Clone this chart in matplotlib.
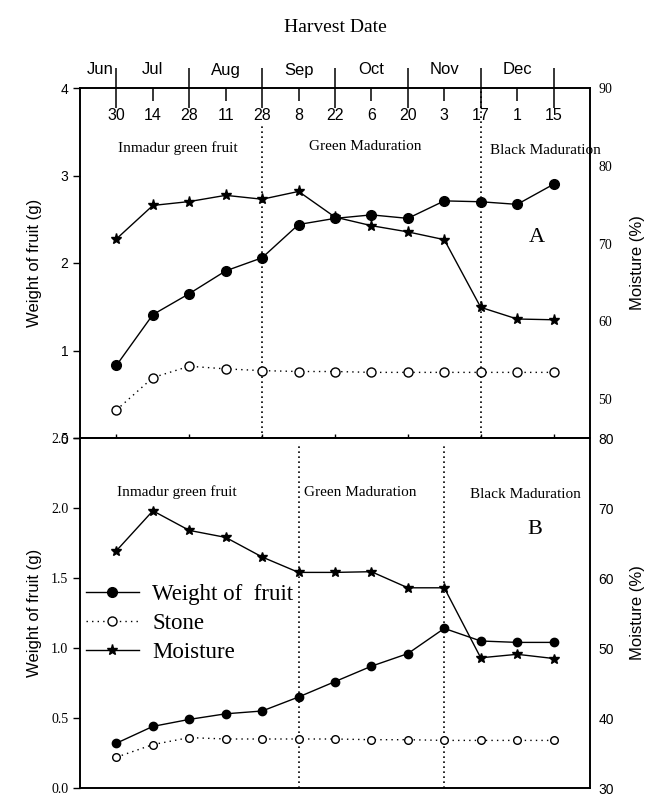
import matplotlib
matplotlib.use('Agg')
from matplotlib import pyplot as pl
from matplotlib import transforms as mtrans
from matplotlib.lines import Line2D

SERIF = 'Liberation Serif'
SANS = 'Liberation Sans'

# harvest dates (index positions on the shared x axis)
dates = ['30', '14', '28', '11', '28', '8', '22', '6', '20', '3', '17', '1', '15']
months = ['Jun', 'Jul', 'Aug', 'Sep', 'Oct', 'Nov', 'Dec']
month_pos = [-0.45, 1, 3, 5, 7, 9, 11]
x = list(range(len(dates)))

# panel A
fruit_a = [0.83, 1.41, 1.65, 1.91, 2.06, 2.44, 2.51, 2.55, 2.51, 2.71, 2.70, 2.67, 2.90]
stone_a = [0.32, 0.69, 0.82, 0.79, 0.77, 0.76, 0.76, 0.75, 0.75, 0.75, 0.75, 0.75, 0.75]
moist_a = [70.6, 74.9, 75.4, 76.2, 75.7, 76.7, 73.4, 72.3, 71.5, 70.5, 61.8, 60.3, 60.2]

# panel B
fruit_b = [0.32, 0.44, 0.49, 0.53, 0.55, 0.65, 0.76, 0.87, 0.96, 1.14, 1.05, 1.04, 1.04]
stone_b = [0.22, 0.31, 0.36, 0.35, 0.35, 0.35, 0.35, 0.345, 0.345, 0.34, 0.34, 0.34, 0.34]
moist_b = [63.9, 69.6, 66.8, 65.8, 63.0, 60.8, 60.8, 60.9, 58.6, 58.6, 48.6, 49.1, 48.5]

W, H = 651, 796
fig = pl.figure(figsize=(W/100, H/100), dpi=100)

left = 80/W
width = 510/W
height = 350/H
ax_a = fig.add_axes([left, (H-438)/H, width, height])
ax_b = fig.add_axes([left, (H-788)/H, width, height])
axr_a = ax_a.twinx()
axr_b = ax_b.twinx()


def draw_panel(ax, axr, fruit, stone, moist, big):
    ms_f = 7 if big else 6
    ms_s = 6.5 if big else 5.5
    ms_m = 8 if big else 7
    ax.plot(x, fruit, color='k', lw=1, marker='o', ms=ms_f,
            mfc='k', mec='k', zorder=3)
    ax.plot(x, stone, color='k', lw=1, ls=(0, (1, 3)), marker='o', ms=ms_s,
            mfc='white', mec='k', mew=1, zorder=3)
    axr.plot(x, moist, color='k', lw=1, marker='*', ms=ms_m,
             mfc='k', mec='k', zorder=3)
    ax.set_xlim(-1, 13)
    for a in (ax, axr):
        for s in a.spines.values():
            s.set_linewidth(1.2)


draw_panel(ax_a, axr_a, fruit_a, stone_a, moist_a, True)
draw_panel(ax_b, axr_b, fruit_b, stone_b, moist_b, False)

# y axes
ax_a.set_ylim(0, 4)
ax_a.set_yticks([0, 1, 2, 3, 4])
ax_a.tick_params(axis='y', direction='out', length=5, width=1,
                 labelsize=10, labelfontfamily=SANS)
axr_a.set_ylim(45, 90)
axr_a.set_yticks([50, 60, 70, 80, 90])
axr_a.tick_params(axis='y', length=0, pad=6, labelsize=10,
                  labelfontfamily=SERIF)

ax_b.set_ylim(0, 2.5)
ax_b.set_yticks([0, 0.5, 1.0, 1.5, 2.0, 2.5])
ax_b.set_yticklabels(['0.0', '0.5', '1.0', '1.5', '2.0', '2.5'])
ax_b.tick_params(axis='y', direction='out', length=5, width=1,
                 labelsize=10, labelfontfamily=SERIF)
axr_b.set_ylim(30, 80)
axr_b.set_yticks([30, 40, 50, 60, 70, 80])
axr_b.tick_params(axis='y', length=0, pad=6, labelsize=10,
                  labelfontfamily=SANS)

for a in (ax_a, ax_b):
    a.set_ylabel('Weight of fruit (g)', fontfamily=SANS, fontsize=12)
    a.yaxis.set_label_coords((42-80)/510, 0.5)
for a in (axr_a, axr_b):
    a.set_ylabel('Moisture (%)', fontfamily=SANS, fontsize=12)
    a.yaxis.set_label_coords((630-80)/510, 0.5)

# x axis: harvest dates on top of panel A
ax_a.set_xticks(x[0::2])
ax_a.set_xticks(x[1::2], minor=True)
ax_a.tick_params(axis='x', which='major', top=True, bottom=False,
                 direction='inout', length=29, width=1.1,
                 labelbottom=False, labeltop=False)
ax_a.tick_params(axis='x', which='minor', top=True, bottom=False,
                 direction='in', length=9, width=1.1)
axr_a.tick_params(axis='x', which='both', top=False, bottom=False)

trans_a = mtrans.blended_transform_factory(ax_a.transData, ax_a.transAxes)
for xi, lab in zip(x, dates):
    ax_a.text(xi, 1 - 27/350, lab, transform=trans_a, ha='center',
              va='center', fontsize=11.5, fontfamily=SANS)
for xm, mon in zip(month_pos, months):
    ax_a.text(xm, 1 + 18/350, mon, transform=trans_a, ha='center',
              va='center', fontsize=12, fontfamily=SANS)
fig.text(335/W, 1 - 27/H, 'Harvest Date', ha='center', va='center',
         fontsize=14, fontfamily=SERIF)

# small ticks along the shared border, pointing up into panel A
ax_b.set_xticks(x[0::2])
ax_b.tick_params(axis='x', top=True, bottom=False, direction='out',
                 length=3, width=1, labelbottom=False, labeltop=False)

# stage separators
ax_a.axvline(4, ymin=0, ymax=1 - 37/350, color='k', lw=1.2, ls=(0, (1, 2)))
ax_a.axvline(10, ymin=0, ymax=1, color='k', lw=1.2, ls=(0, (1, 2)))
ax_b.axvline(5, ymin=0, ymax=1 - 7/350, color='k', lw=1.2, ls=(0, (1, 2)))
ax_b.axvline(9, ymin=0, ymax=1 - 7/350, color='k', lw=1.2, ls=(0, (1, 2)))

# stage labels
ax_a.text(178/W, 1 - 148/H, 'Inmadur green fruit', transform=fig.transFigure,
          ha='center', va='center', fontsize=11, fontfamily=SERIF)
ax_a.text(365/W, 1 - 146/H, 'Green Maduration', transform=fig.transFigure,
          ha='center', va='center', fontsize=11, fontfamily=SERIF)
ax_a.text(490/W, 1 - 150/H, 'Black Maduration', transform=fig.transFigure,
          ha='left', va='center', fontsize=11, fontfamily=SERIF)
ax_a.text(537/W, 1 - 238/H, 'A', transform=fig.transFigure,
          ha='center', va='center', fontsize=16, fontfamily=SERIF)

ax_b.text(177/W, 1 - 492/H, 'Inmadur green fruit', transform=fig.transFigure,
          ha='center', va='center', fontsize=11, fontfamily=SERIF)
ax_b.text(360/W, 1 - 492/H, 'Green Maduration', transform=fig.transFigure,
          ha='center', va='center', fontsize=11, fontfamily=SERIF)
ax_b.text(525/W, 1 - 494/H, 'Black Maduration', transform=fig.transFigure,
          ha='center', va='center', fontsize=11, fontfamily=SERIF)
ax_b.text(535/W, 1 - 530/H, 'B', transform=fig.transFigure,
          ha='center', va='center', fontsize=16, fontfamily=SERIF)

# legend
handles = [
    Line2D([], [], color='k', lw=1, marker='o', ms=7, mfc='k'),
    Line2D([], [], color='k', lw=1, ls=(0, (1, 3)), marker='o', ms=6.5,
           mfc='white', mec='k'),
    Line2D([], [], color='k', lw=1, marker='*', ms=8, mfc='k'),
]
labels = ['Weight of  fruit', 'Stone', 'Moisture']
leg = fig.legend(handles, labels, loc='upper left',
                 bbox_to_anchor=(86/W, 1 - 584/H), frameon=False,
                 borderpad=0, borderaxespad=0, handlelength=2.3,
                 handletextpad=0.6, labelspacing=0.35,
                 prop={'family': SERIF, 'size': 16.5})

fig.savefig('out.png', dpi=100)
